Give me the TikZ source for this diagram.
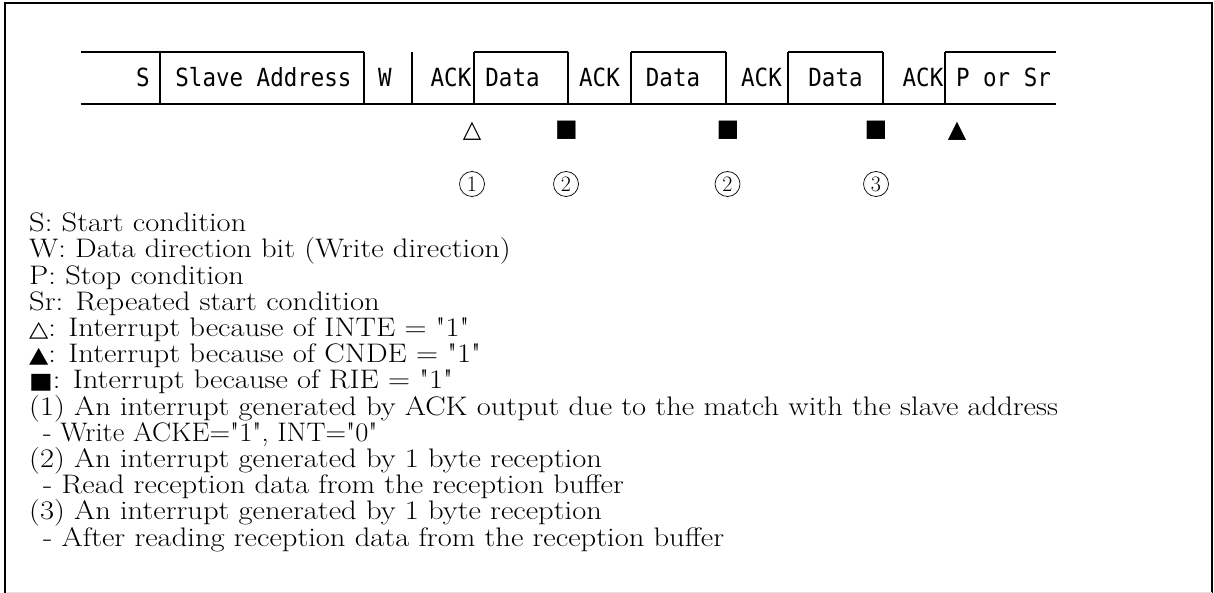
\documentclass[tikz,border=0pt]{standalone}
\usepackage{fontspec}
\usepackage{graphicx}
\newfontfamily\rowfont[FakeStretch=0.9]{DejaVu Sans Mono}
\newfontfamily\symfont{DejaVu Sans}
\newcommand{\qq}{\textquotedbl}
\newcommand{\wideA}[1]{\scalebox{1.14}[1]{#1}}
\newcommand{\wideB}[1]{\scalebox{1.065}[1]{#1}}
\begin{document}
\begin{tikzpicture}[x=1pt,y=-1pt,
  framestyle/.style={line width=1.8pt},
  seg/.style={line width=1.8pt},
  field/.style={inner sep=0pt, anchor=base, font=\rowfont\fontsize{25}{25}\selectfont},
  intmark/.style={inner sep=0pt, font=\symfont\fontsize{24}{24}\selectfont},
  circnum/.style={circle, draw, line width=0.7pt, minimum size=25pt, inner sep=0pt, font=\fontsize{22}{22}\selectfont},
  legend/.style={anchor=base west, inner sep=0pt, font=\fontsize{26.8}{26.8}\selectfont}]
\useasboundingbox (0,0) rectangle (1214,593);
% outer frame
\coordinate (fbl) at (5,640);
\coordinate (ftl) at (5,3);
\coordinate (ftr) at (1212,3);
\coordinate (fbr) at (1212,640);
\draw[framestyle] (fbl) -- (ftl) -- (ftr) -- (fbr);
\coordinate (gl) at (6,592);
\coordinate (gr) at (1212,592);
\draw[black!12, line width=1pt] (gl) -- (gr);

% protocol row: coordinates of the separators
\foreach \n/\x in {a/80.7, b/160, c/364, d/412, e/474.3, f/568.3, g/631, h/725.7, i/788.3, j/882.7, k/945, l/1056}{
  \coordinate (\n t) at (\x,51.7);
  \coordinate (\n b) at (\x,104.3);
}
\draw[seg] (at) -- (ct);
\draw[seg] (et) -- (ft);
\draw[seg] (gt) -- (ht);
\draw[seg] (it) -- (jt);
\draw[seg] (kt) -- (lt);
\draw[seg] (ab) -- (lb);
\foreach \n in {b,c,d,e,f,g,h,i,j,k}{
  \draw[seg] (\n t) -- (\n b);
}

\node[field] (fS)    at (143,86.7) {S};
\node[field] (fSA)   at (263.5,86.7) {Slave Address};
\node[field] (fW)    at (385,86.7) {W};
\node[field] (fA1)   at (451,86.7) {ACK};
\node[field] (fD1)   at (512.5,86.7) {Data};
\node[field] (fA2)   at (599.5,86.7) {ACK};
\node[field] (fD2)   at (673,86.7) {Data};
\node[field] (fA3)   at (761.5,86.7) {ACK};
\node[field] (fD3)   at (835.5,86.7) {Data};
\node[field] (fA4)   at (923,86.7) {ACK};
\node[field] (fP)    at (1003.5,86.7) {P or Sr};

% interrupt marks
\node[intmark] (m1) at (472,131) {△};
\node[intmark] (m2) at (566.5,130.5) {■};
\node[intmark] (m3) at (728,130.5) {■};
\node[intmark] (m4) at (876,130.5) {■};
\node[intmark] (m5) at (957,131) {▲};

% circled numbers
\node[circnum] (c1) at (472,184) {1};
\node[circnum] (c2) at (566,184) {2};
\node[circnum] (c3) at (727.5,184) {2};
\node[circnum] (c4) at (876,184) {3};

% legend
\node[legend] (L1)  at (29,231.7) {\wideA{S: Start condition}};
\node[legend] (L2)  at (29,257.9) {\wideA{W: Data direction bit (Write direction)}};
\node[legend] (L3)  at (29,284.1) {\wideA{P: Stop condition}};
\node[legend] (L4)  at (29,310.3) {\wideA{Sr: Repeated start condition}};
\node[legend] (L5)  at (29,336.5) {\wideA{{\symfont\fontsize{22}{22}\selectfont △}: Interrupt because of INTE = \qq1\qq}};
\node[legend] (L6)  at (29,362.7) {\wideA{{\symfont\fontsize{22}{22}\selectfont ▲}: Interrupt because of CNDE = \qq1\qq}};
\node[legend] (L7)  at (29,388.9) {\wideA{{\symfont\fontsize{22}{22}\selectfont ■}: Interrupt because of RIE = \qq1\qq}};
\node[legend] (L8)  at (29,415.1) {\wideA{(1) An interrupt generated by ACK output due to the match with the slave address}};
\node[legend] (L9)  at (43,441.3) {\wideB{- Write ACKE=\qq1\qq, INT=\qq0\qq}};
\node[legend] (L10) at (29,467.5) {\wideA{(2) An interrupt generated by 1 byte reception}};
\node[legend] (L11) at (43,493.7) {\wideA{- Read reception data from the reception buffer}};
\node[legend] (L12) at (29,519.9) {\wideA{(3) An interrupt generated by 1 byte reception}};
\node[legend] (L13) at (43,546.1) {\wideA{- After reading reception data from the reception buffer}};
\end{tikzpicture}
\end{document}
